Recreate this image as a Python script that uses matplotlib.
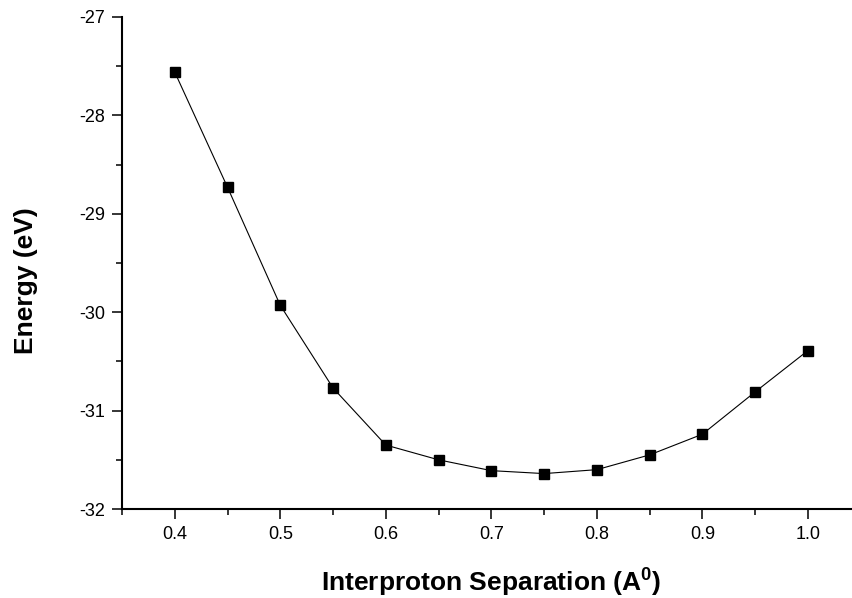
import numpy as np
import matplotlib
matplotlib.use("Agg")
import matplotlib.pyplot as plt
from matplotlib.ticker import MultipleLocator

plt.rcParams["font.family"] = ["Liberation Sans", "DejaVu Sans"]
plt.rcParams["axes.unicode_minus"] = False
plt.rcParams["mathtext.fontset"] = "custom"
plt.rcParams["mathtext.bf"] = "Liberation Sans:bold"

separation = [0.40, 0.45, 0.50, 0.55, 0.60, 0.65, 0.70, 0.75, 0.80, 0.85, 0.90, 0.95, 1.00]
energy = [-27.56, -28.73, -29.93, -30.77, -31.35, -31.50, -31.61, -31.64, -31.60,
          -31.45, -31.24, -30.81, -30.39]
xticks = [0.4, 0.5, 0.6, 0.7, 0.8, 0.9, 1.0]
yticks = [-32, -31, -30, -29, -28, -27]

fig = plt.figure(figsize=(8.53, 5.98), dpi=100)
ax = fig.add_axes([0.143, 0.1488, 0.866, 0.8228])

ax.plot(separation, energy, color="black", lw=0.8, marker="s", ms=7,
        mec="black", mfc="black")

ax.set_xlim(0.35, 1.05)
ax.set_ylim(-32, -27)
ax.set_xticks(xticks)
ax.set_xticklabels([f"{t:.1f}" for t in xticks])
ax.set_yticks(yticks)
ax.xaxis.set_minor_locator(MultipleLocator(0.05))
ax.yaxis.set_minor_locator(MultipleLocator(0.5))

for s in ["top", "right"]:
    ax.spines[s].set_visible(False)
for s in ["left", "bottom"]:
    ax.spines[s].set_linewidth(1.5)

ax.tick_params(which="major", direction="out", length=7, width=1.1, labelsize=13, pad=5)
ax.tick_params(which="minor", direction="out", length=4, width=1.1)

ax.set_xlabel(r"Interproton Separation (A$^\mathbf{0}$)", fontsize=19, fontweight="bold", labelpad=16)
ax.set_ylabel("Energy (eV)", fontsize=19, fontweight="bold")
ax.yaxis.set_label_coords(-0.114, 0.465)

fig.savefig("out.png", dpi=100)
